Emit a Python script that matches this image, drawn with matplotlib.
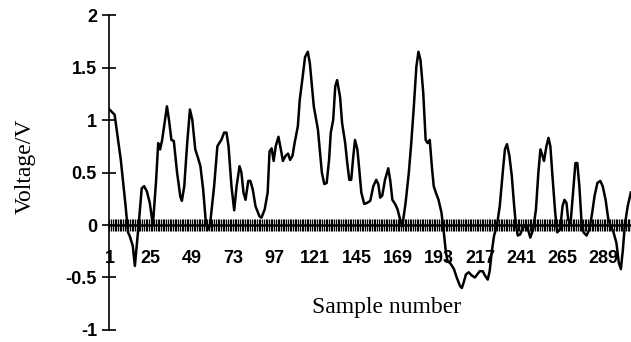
import numpy as np
import matplotlib
matplotlib.use("Agg")
import matplotlib.pyplot as plt
from matplotlib.ticker import FixedLocator, MultipleLocator

plt.rcParams["axes.unicode_minus"] = False

# Traced signal: sample position and voltage
sample = [1.0, 4.0, 7.6, 10.4, 11.8, 12.7, 14.6, 15.8, 18.1, 19.8, 21.2, 22.8, 24.5, 26.3,
          28.2, 29.4, 30.5, 31.7, 33.4, 34.5, 35.7, 37.1, 38.5, 40.4, 42.3, 43.2, 44.6, 46.3,
          47.9, 49.3, 51.0, 52.6, 54.0, 55.6, 57.3, 58.7, 59.6, 62.0, 63.9, 65.0, 66.2, 67.8,
          69.2, 70.4, 72.1, 73.7, 75.1, 76.8, 77.9, 79.1, 80.3, 81.9, 83.1, 84.5, 86.1, 88.5,
          89.6, 91.5, 93.2, 94.3, 95.5, 96.7, 97.9, 99.5, 100.9, 102.1, 103.7, 105.1, 106.3,
          107.7, 108.9, 110.8, 111.9, 113.6, 115.0, 116.6, 117.8, 119.0, 120.1, 121.5, 122.5,
          123.7, 124.8, 126.2, 127.6, 129.0, 130.0, 131.4, 132.6, 133.7, 135.4, 136.6, 138.4,
          139.6, 140.8, 141.9, 143.1, 144.1, 145.5, 146.6, 147.8, 149.5, 151.1, 153.0, 154.8,
          156.5, 157.7, 158.8, 160.0, 161.6, 163.5, 164.7, 165.9, 167.5, 168.9, 170.6, 171.7,
          173.6, 175.5, 176.9, 178.3, 179.9, 181.1, 182.3, 183.9, 185.3, 186.5, 187.7, 188.9,
          190.0, 191.2, 192.8, 194.5, 195.7, 197.1, 198.0, 199.9, 201.8, 203.4, 205.3, 206.4,
          207.4, 208.8, 210.4, 212.1, 214.0, 215.4, 216.8, 218.6, 219.8, 221.5, 222.6, 223.8,
          225.2, 226.8, 228.5, 230.4, 231.5, 232.7, 234.1, 235.5, 236.9, 237.9, 239.0, 240.4,
          241.6, 243.3, 244.9, 246.3, 248.0, 249.6, 251.0, 252.2, 253.4, 254.3, 255.7, 256.9,
          258.0, 259.2, 260.8, 262.0, 263.7, 265.1, 266.2, 267.4, 268.4, 269.8, 270.9, 272.6,
          273.7, 274.9, 276.1, 277.3, 279.1, 280.8, 282.4, 283.8, 285.4, 287.1, 288.5, 290.2,
          291.8, 293.2, 294.8, 296.5, 297.9, 299.1, 300.3, 301.4, 303.1, 304.9]
voltage = [1.10, 1.05, 0.62, 0.18, -0.07, -0.10, -0.20, -0.39, 0.02, 0.35, 0.37, 0.32, 0.21, 0.00,
           0.43, 0.78, 0.72, 0.81, 1.00, 1.13, 1.00, 0.81, 0.80, 0.50, 0.27, 0.23, 0.37, 0.78,
           1.10, 1.00, 0.72, 0.64, 0.56, 0.34, 0.00, -0.04, 0.00, 0.37, 0.75, 0.78, 0.81, 0.88,
           0.88, 0.75, 0.37, 0.14, 0.37, 0.56, 0.50, 0.31, 0.24, 0.42, 0.42, 0.34, 0.18, 0.08,
           0.07, 0.15, 0.31, 0.70, 0.73, 0.61, 0.75, 0.84, 0.72, 0.61, 0.66, 0.68, 0.62,
           0.66, 0.78, 0.94, 1.19, 1.41, 1.60, 1.65, 1.54, 1.32, 1.13, 1.00, 0.91,
           0.69, 0.50, 0.39, 0.40, 0.62, 0.88, 1.00, 1.32, 1.38, 1.22, 0.97, 0.78,
           0.59, 0.43, 0.43, 0.65, 0.81, 0.72, 0.53, 0.31, 0.20, 0.21, 0.23, 0.37,
           0.43, 0.39, 0.26, 0.28, 0.43, 0.54, 0.42, 0.24, 0.20, 0.15, 0.04, -0.01,
           0.21, 0.50, 0.78, 1.10, 1.51, 1.65, 1.57, 1.26, 0.81, 0.78, 0.81, 0.56,
           0.37, 0.31, 0.24, 0.12, -0.04, -0.26, -0.34, -0.37, -0.42, -0.50, -0.58, -0.60,
           -0.55, -0.47, -0.45, -0.48, -0.50, -0.47, -0.44, -0.44, -0.48, -0.52, -0.44, -0.26,
           -0.10, -0.01, 0.18, 0.53, 0.72, 0.77, 0.66, 0.47, 0.18, 0.00, -0.10, -0.09,
           -0.04, 0.00, -0.04, -0.12, -0.04, 0.15, 0.50, 0.72, 0.66, 0.61, 0.75, 0.83,
           0.75, 0.47, 0.12, -0.07, -0.04, 0.18, 0.24, 0.21, 0.05, 0.02, 0.24, 0.59,
           0.59, 0.37, 0.05, -0.07, -0.10, -0.04, 0.12, 0.28, 0.40, 0.42, 0.37, 0.24,
           0.05, -0.01, -0.07, -0.17, -0.36, -0.42, -0.23, 0.00, 0.18, 0.31]

x_ticks = [1, 25, 49, 73, 97, 121, 145, 169, 193, 217, 241, 265, 289]
y_ticks = [-1, -0.5, 0, 0.5, 1, 1.5, 2]
y_labels = ["-1", "-0.5", "0", "0.5", "1", "1.5", "2"]
n_samples = 305

fig = plt.figure(figsize=(6.31, 3.42), dpi=100)
ax = fig.add_axes([0.1735, 0.0351, 0.8265, 0.921])

ax.plot(sample, voltage, color="black", lw=1.8, solid_joinstyle="round", zorder=3)

ax.set_xlim(1, n_samples)
ax.set_ylim(-1, 2)

for side in ("top", "right"):
    ax.spines[side].set_visible(False)
ax.spines["left"].set_linewidth(1.2)
ax.spines["bottom"].set_linewidth(1.8)
ax.spines["bottom"].set_position(("data", 0))
ax.spines["left"].set_position(("data", 1))

tick_font = dict(family="Liberation Sans", size=13, weight="bold")

# Category axis: a cross tick at every sample, labels every 24 samples
ax.xaxis.set_major_locator(FixedLocator(x_ticks))
ax.xaxis.set_minor_locator(MultipleLocator(1))
ax.set_xticklabels([str(t) for t in x_ticks], fontdict=tick_font)
ax.tick_params(axis="x", which="major", direction="inout", length=8.5, width=0.9, pad=13.5)
ax.tick_params(axis="x", which="minor", direction="inout", length=8.5, width=0.9)

ax.set_yticks(y_ticks)
ax.set_yticklabels(y_labels, fontdict=tick_font)
ax.tick_params(axis="y", direction="inout", length=9.4, width=1.2, pad=4.3)

fig.text(0.040, 0.515, "Voltage/V", rotation=90, ha="center", va="center",
         family="Liberation Serif", fontsize=17)
fig.text(0.613, 0.102, "Sample number", ha="center", va="center",
         family="Liberation Serif", fontsize=17)

fig.savefig("out.png", dpi=100)
